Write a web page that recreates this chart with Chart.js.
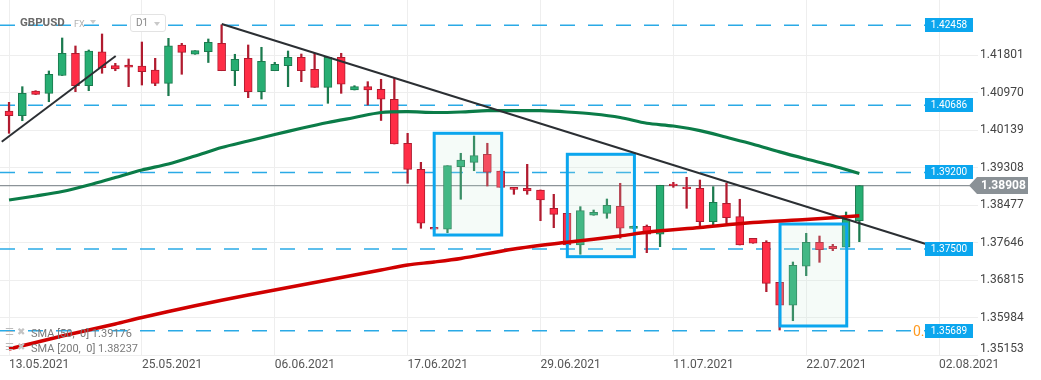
<!DOCTYPE html>
<html><head><meta charset="utf-8">
<script src="https://cdn.jsdelivr.net/npm/chart.js@4.4.1/dist/chart.umd.min.js"></script>
<style>
body{margin:0;background:#fff;font-family:Roboto,"Noto Sans",sans-serif;}
#wrap{position:relative;width:1041px;height:380px;overflow:hidden;background:#fff}
canvas{position:absolute;left:0;top:0}
.ov{position:absolute;white-space:pre;line-height:1}
.tri{position:absolute;width:0;height:0;border-left:3.5px solid transparent;border-right:3.5px solid transparent;border-top:4px solid #c9c9c9}
</style></head><body>
<div id="wrap">
<canvas id="c" width="1041" height="380"></canvas>
<div class="ov" style="left:20px;top:17px;font-weight:bold;font-size:11.5px;color:#6a6a6a">GBPUSD</div>
<div class="ov" style="left:74px;top:20px;font-size:9px;color:#b0b0b0">FX</div>
<div class="tri" style="left:90px;top:20px"></div>
<div class="ov" style="left:130px;top:14px;width:34px;height:16px;border:1px solid #e3e3e3;border-radius:3px;background:#fff"></div>
<div class="ov" style="left:136px;top:18px;font-size:10px;color:#888">D1</div>
<div class="tri" style="left:154px;top:22px"></div>
<div class="ov" style="left:5px;top:327px;font-size:10px;color:#bbb">☰</div>
<div class="ov" style="left:17px;top:327px;font-size:10px;color:#c4c4c4">✖</div>
<div class="ov" style="left:31px;top:328px;font-size:11px;color:#7a7a7a">SMA [50,  0] 1.39176</div>
<div class="ov" style="left:5px;top:342px;font-size:10px;color:#bbb">☰</div>
<div class="ov" style="left:17px;top:342px;font-size:10px;color:#c4c4c4">✖</div>
<div class="ov" style="left:31px;top:343px;font-size:11px;color:#7a7a7a">SMA [200,  0] 1.38237</div>
</div>
<script>
// ---- data ----
const opens  = [1.40560,1.40456,1.41003,1.40952,1.41347,1.41839,1.41121,1.41874,1.41564,1.41580,1.41557,1.41469,1.41174,1.42023,1.41817,1.41874,1.42060,1.41453,1.41728,1.40988,1.41453,1.41564,1.41750,1.41484,1.41085,1.41750,1.41026,1.41099,1.41041,1.40820,1.39845,1.39268,1.37983,1.37939,1.39326,1.39423,1.39601,1.39231,1.38869,1.38847,1.38810,1.38404,1.38293,1.37591,1.38249,1.38293,1.38448,1.37957,1.38005,1.37828,1.38943,1.38876,1.38847,1.38107,1.38515,1.38218,1.37739,1.37651,1.36764,1.36255,1.37119,1.37651,1.37562,1.37540,1.38129];
const highs  = [1.40753,1.41099,1.41010,1.41447,1.42178,1.42001,1.41912,1.42267,1.41617,1.41713,1.42089,1.41728,1.42171,1.42060,1.41897,1.42156,1.42470,1.41817,1.42023,1.41972,1.41639,1.41890,1.41823,1.41839,1.41750,1.41839,1.41121,1.41210,1.41263,1.41280,1.40066,1.39423,1.37990,1.39348,1.39623,1.40006,1.39845,1.39231,1.38869,1.39379,1.38810,1.38714,1.38293,1.38440,1.38366,1.38610,1.38958,1.38012,1.38034,1.38914,1.38980,1.39091,1.39031,1.38883,1.38958,1.38604,1.37739,1.37686,1.36764,1.37214,1.37850,1.37790,1.37606,1.38322,1.38908];
const lows   = [1.40066,1.40345,1.40925,1.40766,1.41347,1.40988,1.41010,1.41396,1.41453,1.41099,1.41136,1.41121,1.40899,1.41374,1.41817,1.41635,1.41453,1.41121,1.40855,1.40826,1.41453,1.41099,1.41210,1.41085,1.40731,1.40952,1.41026,1.40693,1.40350,1.39829,1.38958,1.37961,1.37935,1.37863,1.38604,1.39237,1.38898,1.38869,1.38714,1.38714,1.38129,1.37974,1.37580,1.37385,1.38249,1.38183,1.37739,1.37957,1.37420,1.37553,1.38869,1.38404,1.37996,1.38034,1.38072,1.37591,1.37629,1.36556,1.35707,1.35913,1.36911,1.37207,1.37465,1.37540,1.37664];
const closes = [1.40456,1.40952,1.40930,1.41374,1.41839,1.41121,1.41890,1.41520,1.41491,1.41529,1.41431,1.41174,1.42007,1.41861,1.41897,1.42083,1.41453,1.41706,1.40988,1.41662,1.41595,1.41750,1.41453,1.41085,1.41750,1.41152,1.41099,1.41026,1.40820,1.39829,1.39268,1.38072,1.37939,1.39348,1.39474,1.39570,1.39202,1.38869,1.38825,1.38787,1.38588,1.38271,1.37591,1.38351,1.38315,1.38471,1.37961,1.38007,1.37828,1.38914,1.38905,1.38838,1.38107,1.38537,1.38196,1.37591,1.37629,1.36742,1.36255,1.37141,1.37651,1.37487,1.37509,1.38160,1.38908];

const sma50Idx = [0,2,4,6,8,10,12,14,16,18,20,22,24,26,28,30,32,34,36,38,40,42,44,46,48,50,52,54,56,58,60,62,64];
const sma50    = [1.38588,1.38677,1.38776,1.38920,1.39087,1.39253,1.39386,1.39563,1.39751,1.39895,1.40039,1.40177,1.40305,1.40416,1.40527,1.40545,1.40527,1.40538,1.40567,1.40567,1.40567,1.40538,1.40494,1.40416,1.40288,1.40228,1.40126,1.39977,1.39825,1.39654,1.39497,1.39346,1.39176];
const sma200Idx = [0,4,8,10,14,18,20,24,28,30,32,34,38,42,46,48,52,56,60,64];
const sma200    = [1.35286,1.35574,1.35840,1.35984,1.36243,1.36483,1.36594,1.36815,1.37037,1.37148,1.37214,1.37292,1.37502,1.37651,1.37790,1.37872,1.37979,1.38089,1.38156,1.38237];

const tickIdx    = [0,10,20,30,40,50,60,70];
const tickLabels = ['13.05.2021','25.05.2021','06.06.2021','17.06.2021','29.06.2021','11.07.2021','22.07.2021','02.08.2021'];
const yTicks     = [1.41801,1.40970,1.40139,1.39308,1.38477,1.37646,1.36815,1.35984,1.35153];
const levels     = [1.42458,1.40686,1.39200,1.37500,1.35689];
const lastPrice  = 1.38908;

const trend1X = [-0.55, 8.03],  trend1Y = [1.39880, 1.41779];
const trend2X = [16.01, 69.07], trend2Y = [1.42488, 1.37606];

const boxX0  = [32.0, 42.02, 58.03];
const boxX1  = [37.08, 47.07, 63.05];
const boxTop = [1.40066, 1.39601, 1.38056];
const boxBot = [1.37812, 1.37332, 1.35796];

// ---- chart ----
const X_MIN = -0.68, X_MAX = 72.93, LVL_END = 68.94;
const Y_MIN = 1.35153, Y_MAX = 1.43020;

const idx = opens.map((_, i) => i);
const isUp = idx.map(i => closes[i] >= opens[i]);
const wickData = idx.map(i => ({x: i, y: [lows[i], highs[i]]}));
const bodyData = idx.map(i => ({x: i, y: [Math.min(opens[i], closes[i]), Math.max(opens[i], closes[i])]}));
const GREEN = '#27ae73', GREEN_D = '#1b7a4e', RED = '#ff2d46', RED_D = '#b01b2f';

const datasets = [];
levels.forEach((v, k) => datasets.push({
  type: 'line', label: 'lvl' + k, data: [{x: X_MIN, y: v}, {x: LVL_END, y: v}],
  borderColor: '#2aaae6', borderWidth: 1.5, borderDash: [15, 13], pointRadius: 0, order: 10
}));
datasets.push({type: 'line', label: 'last', data: [{x: X_MIN, y: lastPrice}, {x: X_MAX, y: lastPrice}],
  borderColor: '#8c9398', borderWidth: 1.2, pointRadius: 0, order: 9});
datasets.push({type: 'bar', label: 'wick', data: wickData, grouped: false, barThickness: 1.6,
  backgroundColor: idx.map(i => isUp[i] ? GREEN_D : RED_D), order: 8});
datasets.push({type: 'bar', label: 'body', data: bodyData, grouped: false, barThickness: 8,
  backgroundColor: idx.map(i => isUp[i] ? GREEN : RED),
  borderColor: idx.map(i => isUp[i] ? GREEN_D : RED_D), borderWidth: 1, borderSkipped: false, order: 7});
datasets.push({type: 'line', label: 'sma200', data: sma200Idx.map((x, k) => ({x, y: sma200[k]})),
  borderColor: '#d00000', borderWidth: 3.5, pointRadius: 0, tension: 0.3, order: 4});
datasets.push({type: 'line', label: 'sma50', data: sma50Idx.map((x, k) => ({x, y: sma50[k]})),
  borderColor: '#0b7c48', borderWidth: 3.2, pointRadius: 0, tension: 0.3, order: 3});
datasets.push({type: 'line', label: 'trend1', data: trend1X.map((x, k) => ({x, y: trend1Y[k]})),
  borderColor: '#2b2f33', borderWidth: 2, pointRadius: 0, order: 2});
datasets.push({type: 'line', label: 'trend2', data: trend2X.map((x, k) => ({x, y: trend2Y[k]})),
  borderColor: '#2b2f33', borderWidth: 2, pointRadius: 0, order: 1});

const overlay = {
  id: 'overlay',
  afterDatasetDraw(chart, args) {
    if (chart.data.datasets[args.index].label !== 'body') return;
    const {ctx, scales: {x, y}} = chart;
    ctx.save();
    for (let k = 0; k < boxX0.length; k++) {
      const l = x.getPixelForValue(boxX0[k]), r = x.getPixelForValue(boxX1[k]);
      const t = y.getPixelForValue(boxTop[k]), b = y.getPixelForValue(boxBot[k]);
      ctx.fillStyle = 'rgba(200,233,216,0.18)';
      ctx.fillRect(l, t, r - l, b - t);
      ctx.strokeStyle = '#0ba6ee'; ctx.lineWidth = 3;
      ctx.strokeRect(l, t, r - l, b - t);
    }
    ctx.restore();
  },
  afterDraw(chart) {
    const {ctx, chartArea, scales: {x, y}} = chart;
    ctx.save();
    const px = x.getPixelForValue(LVL_END);
    ctx.textBaseline = 'middle';
    ctx.font = '14px Roboto'; ctx.fillStyle = '#ff9a1f'; ctx.textAlign = 'left';
    ctx.fillText('0.4', px - 12, y.getPixelForValue(levels[4]) + 2);
    levels.forEach(v => {
      const py = Math.round(y.getPixelForValue(v));
      ctx.fillStyle = '#0ba6ee';
      ctx.fillRect(px, py - 7, 48, 14);
      ctx.fillStyle = '#fff'; ctx.font = '10px Roboto'; ctx.textAlign = 'center';
      ctx.fillText(v.toFixed(5), px + 24, py + 0.5);
    });
    // current price tag
    const cy = y.getPixelForValue(lastPrice), R = chartArea.right;
    ctx.fillStyle = '#8a9196';
    ctx.beginPath();
    ctx.moveTo(R - 9, cy); ctx.lineTo(R - 1, cy - 8.5); ctx.lineTo(R + 50, cy - 8.5);
    ctx.lineTo(R + 50, cy + 8.5); ctx.lineTo(R - 1, cy + 8.5); ctx.closePath(); ctx.fill();
    ctx.fillStyle = '#fff'; ctx.font = 'bold 12px Roboto'; ctx.textAlign = 'left';
    ctx.fillText(lastPrice.toFixed(5), R + 3, cy + 0.5);
    // lowest axis label lifted above the date row
    const lv = yTicks[yTicks.length - 1];
    ctx.fillStyle = '#444'; ctx.font = '12px Roboto';
    ctx.fillText(lv.toFixed(5), R + 2, y.getPixelForValue(lv) - 6);
    ctx.restore();
  }
};

const noPad = s => { s.paddingTop = 0; s.paddingBottom = 0; s.paddingLeft = 0; s.paddingRight = 0; };

new Chart(document.getElementById('c'), {
  type: 'bar',
  data: {datasets},
  options: {
    responsive: false, animation: false, maintainAspectRatio: false,
    layout: {padding: 0},
    plugins: {legend: {display: false}, tooltip: {enabled: false}},
    scales: {
      x: {
        type: 'linear', min: X_MIN, max: X_MAX, offset: false,
        afterBuildTicks: s => { s.ticks = tickIdx.map(v => ({value: v})); },
        afterFit: s => { s.height = 25; noPad(s); },
        grid: {color: '#eeeeee', drawTicks: false, offset: false},
        border: {display: false},
        ticks: {align: 'start', padding: 3, autoSkip: false, maxRotation: 0, color: '#555',
          font: {family: 'Roboto', size: 12}, callback: (v, i) => tickLabels[i]}
      },
      y: {
        type: 'linear', position: 'right', min: Y_MIN, max: Y_MAX, beginAtZero: false,
        afterBuildTicks: s => { s.ticks = yTicks.map(v => ({value: v})); },
        afterFit: s => { s.width = 63; noPad(s); },
        grid: {color: '#eeeeee', drawTicks: false},
        border: {display: false},
        ticks: {padding: 2, color: c => (c.tick && c.tick.value === yTicks[yTicks.length - 1]) ? 'rgba(0,0,0,0)' : '#444',
          font: {family: 'Roboto', size: 12}, callback: v => Number(v).toFixed(5)}
      }
    }
  },
  plugins: [overlay]
});
</script>
</body></html>
